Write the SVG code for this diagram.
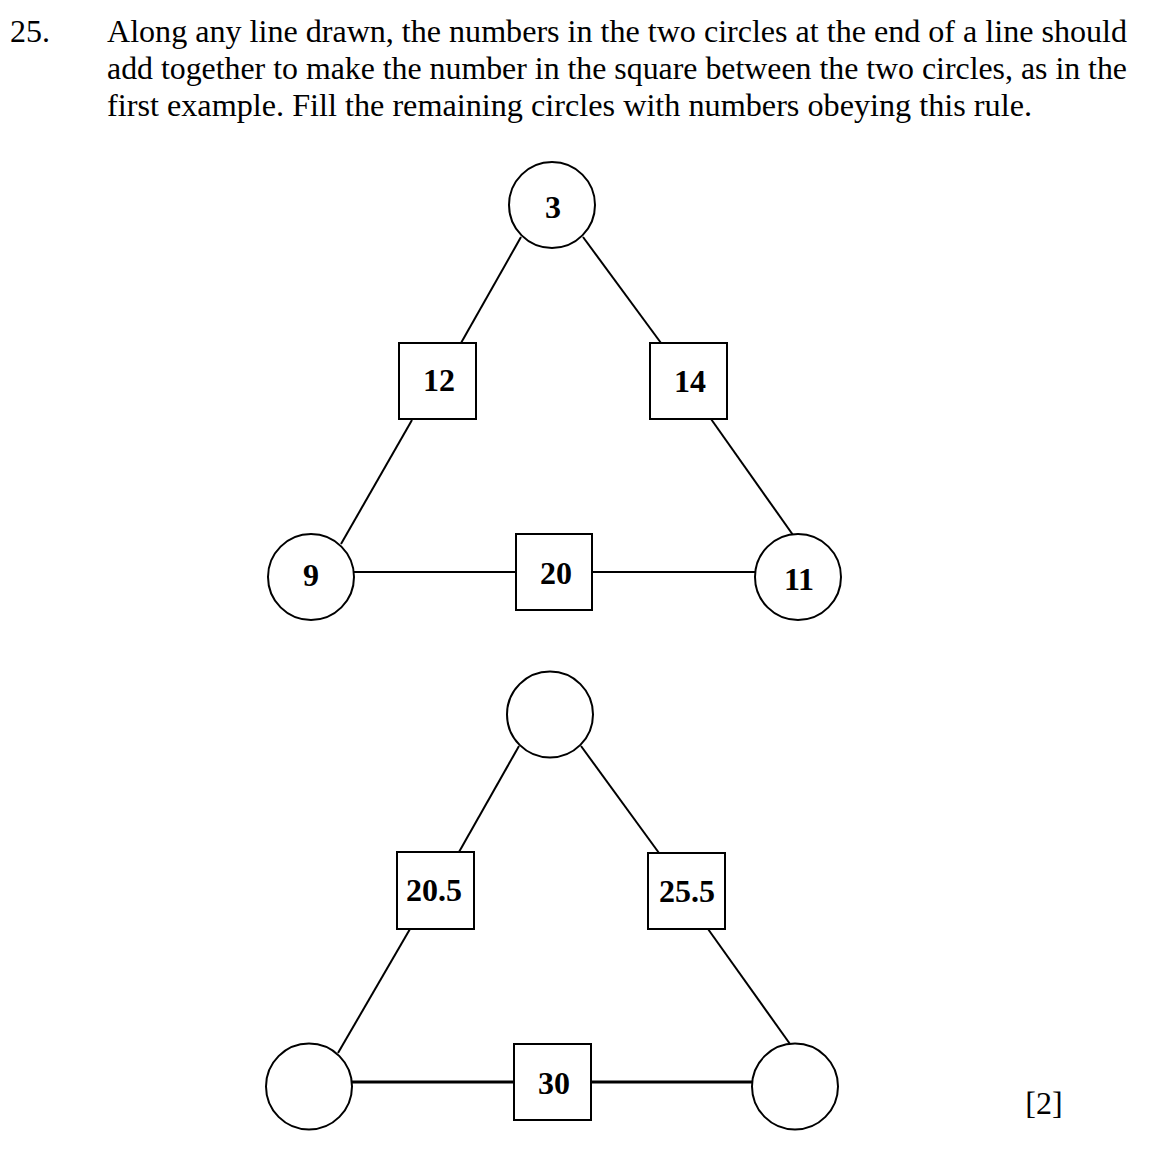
<svg xmlns="http://www.w3.org/2000/svg" width="1168" height="1173" viewBox="0 0 1168 1173">
<style>
.bg{fill:#ffffff}
.q{font-family:"Liberation Serif","Times New Roman",serif;font-size:32px;fill:#000}
.lbl{font-family:"Liberation Serif","Times New Roman",serif;font-size:32px;font-weight:bold;fill:#000;text-anchor:middle}
.nd{fill:#fff;stroke:#000;stroke-width:2}
.cn line{stroke:#000;stroke-width:2}
.cn line.thick{stroke-width:3}
</style>
<rect class="bg" x="0" y="0" width="1168" height="1173"/>
<g id="question">
<text class="q" x="10" y="42">25.</text>
<text class="q" x="107" y="42" textLength="1020" lengthAdjust="spacingAndGlyphs">Along any line drawn, the numbers in the two circles at the end of a line should</text>
<text class="q" x="107" y="79" textLength="1020" lengthAdjust="spacingAndGlyphs">add together to make the number in the square between the two circles, as in the</text>
<text class="q" x="107" y="116" textLength="925" lengthAdjust="spacingAndGlyphs">first example. Fill the remaining circles with numbers obeying this rule.</text>
</g>
<g id="connectors" class="cn">
<line x1="521" y1="237" x2="461" y2="343"/>
<line x1="412" y1="420" x2="341" y2="544"/>
<line x1="354" y1="572" x2="516" y2="572"/>
<line x1="592" y1="572" x2="755" y2="572"/>
<line x1="583" y1="237" x2="661" y2="343"/>
<line x1="711" y1="419" x2="793" y2="535"/>
<line x1="519" y1="746" x2="459" y2="852"/>
<line x1="410" y1="929" x2="338" y2="1053"/>
<line class="thick" x1="352" y1="1082" x2="514" y2="1082"/>
<line class="thick" x1="590" y1="1082" x2="753" y2="1082"/>
<line x1="581" y1="746" x2="659" y2="853"/>
<line x1="708" y1="929" x2="790" y2="1044"/>
</g>
<g id="c3"><ellipse class="nd" cx="552" cy="205" rx="43" ry="43"/><text class="lbl" x="553" y="218">3</text></g>
<g id="s12"><rect class="nd" x="399" y="343" width="77" height="76"/><text class="lbl" x="439" y="391">12</text></g>
<g id="s14"><rect class="nd" x="650" y="343" width="77" height="76"/><text class="lbl" x="690" y="392">14</text></g>
<g id="c9"><ellipse class="nd" cx="311" cy="577" rx="43" ry="43"/><text class="lbl" x="311" y="586">9</text></g>
<g id="s20"><rect class="nd" x="516" y="534" width="76" height="76"/><text class="lbl" x="556" y="584">20</text></g>
<g id="c11"><ellipse class="nd" cx="798" cy="577" rx="43" ry="43"/><text class="lbl" x="799" y="590">11</text></g>
<g id="ctop2"><ellipse class="nd" cx="550" cy="714.5" rx="43" ry="43"/></g>
<g id="s205"><rect class="nd" x="397" y="852" width="77" height="77"/><text class="lbl" x="434" y="901">20.5</text></g>
<g id="s255"><rect class="nd" x="648" y="853" width="77" height="76"/><text class="lbl" x="687" y="902">25.5</text></g>
<g id="cleft2"><ellipse class="nd" cx="309" cy="1086.5" rx="43" ry="43"/></g>
<g id="s30"><rect class="nd" x="514" y="1044" width="77" height="76"/><text class="lbl" x="554" y="1094">30</text></g>
<g id="cright2"><ellipse class="nd" cx="795" cy="1086.5" rx="43" ry="43"/></g>
<text class="q" x="1044" y="1114" text-anchor="middle">[2]</text>
</svg>
